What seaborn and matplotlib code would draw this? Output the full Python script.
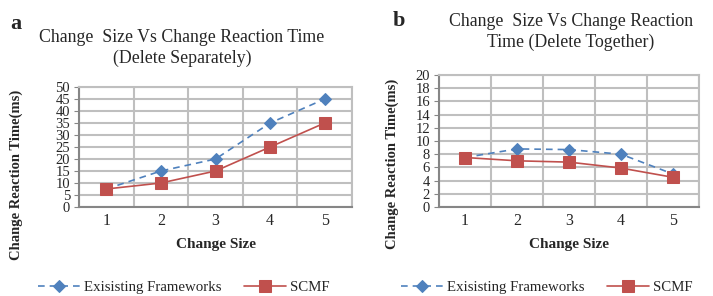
import pandas as pd
import seaborn as sns
import matplotlib.pyplot as plt
import numpy as np

# dados
change_size = [1, 2, 3, 4, 5]
sep_existing = [7.5, 15, 20, 35, 45]
sep_scmf = [7.5, 10, 15, 25, 35]
tog_existing = [7.5, 8.8, 8.7, 8.0, 5.0]
tog_scmf = [7.5, 7.0, 6.8, 5.9, 4.5]

titles = ["Change  Size Vs Change Reaction Time\n(Delete Separately)",
          "Change  Size Vs Change Reaction\nTime (Delete Together)"]
panel_letters = ["a", "b"]
series_names = ["Exisisting Frameworks", "SCMF"]

blue = "#4F81BD"
red = "#C0504D"
grid_c = "#BFBFBF"

sns.set_style("white")
plt.rcParams['font.family'] = ['Liberation Serif', 'DejaVu Serif']

fig = plt.figure(figsize=(7.13, 2.96), dpi=100)
ax1 = fig.add_axes([79 / 713, 1 - 207 / 296, 273 / 713, 120 / 296])
ax2 = fig.add_axes([439 / 713, 1 - 207 / 296, 260 / 713, 132 / 296])

# (eixo, serie 1, serie 2, ymax, passo, posicao do rotulo y)
panels = [
    (ax1, sep_existing, sep_scmf, 50, 5, (-0.205, 0.27)),
    (ax2, tog_existing, tog_scmf, 20, 2, (-0.155, 0.33)),
]

for ax, ex, sc, ymax, step, ylab_pos in panels:
    sns.lineplot(x=change_size, y=ex, ax=ax, color=blue, linestyle=(0, (4, 3)),
                 marker="D", markersize=6, markeredgecolor=blue, linewidth=1.2,
                 label=series_names[0], legend=False)
    sns.lineplot(x=change_size, y=sc, ax=ax, color=red, marker="s",
                 markersize=9, markeredgecolor=red, linewidth=1.2,
                 label=series_names[1], legend=False)
    ax.set_xlim(0.5, 5.5)
    ax.set_ylim(0, ymax)
    ax.set_yticks(np.arange(0, ymax + 1, step))
    ax.set_xticks(change_size)
    ax.set_xticks(np.arange(0.5, 5.6, 1), minor=True)
    ax.grid(True, which="major", axis="y", color=grid_c, linewidth=1.5)
    ax.grid(True, which="minor", axis="x", color=grid_c, linewidth=1.5)
    ax.set_axisbelow(True)
    for s in ax.spines.values():
        s.set_color(grid_c)
        s.set_linewidth(1.5)
    ax.spines["left"].set_color("#868686")
    ax.spines["bottom"].set_color("#868686")
    ax.tick_params(axis="x", which="major", length=0, labelsize=11.5, pad=4)
    ax.tick_params(axis="x", which="minor", length=4, color="#868686", width=1)
    ax.tick_params(axis="y", length=3.5, color="#868686", labelsize=10.5,
                   pad=3, left=True)
    ax.set_xlabel("Change Size", fontsize=11, fontweight="bold", labelpad=7)
    ax.set_ylabel("Change Reaction Time(ms)", fontsize=10.5, fontweight="bold")
    ax.yaxis.set_label_coords(*ylab_pos)

# titulos e letras
fig.text(182 / 713, 1 - 48 / 296, titles[0], ha="center", va="center",
         fontsize=12.8, linespacing=1.25)
fig.text(571 / 713, 1 - 32 / 296, titles[1], ha="center", va="center",
         fontsize=12.8, linespacing=1.25)
fig.text(10 / 713, 1 - 24 / 296, panel_letters[0], ha="left", va="center",
         fontsize=16, fontweight="bold")
fig.text(393 / 713, 1 - 21 / 296, panel_letters[1], ha="left", va="center",
         fontsize=16, fontweight="bold")

# legendas embaixo de cada painel
for ax, x0 in [(ax1, 184 / 713), (ax2, 547 / 713)]:
    h, l = ax.get_legend_handles_labels()
    fig.legend(h, l, loc="center", bbox_to_anchor=(x0, 1 - 287 / 296), ncol=2,
               frameon=False, fontsize=10.7, handlelength=2.8,
               columnspacing=1.5, handletextpad=0.3, borderpad=0)

fig.savefig("out.png", dpi=100)
